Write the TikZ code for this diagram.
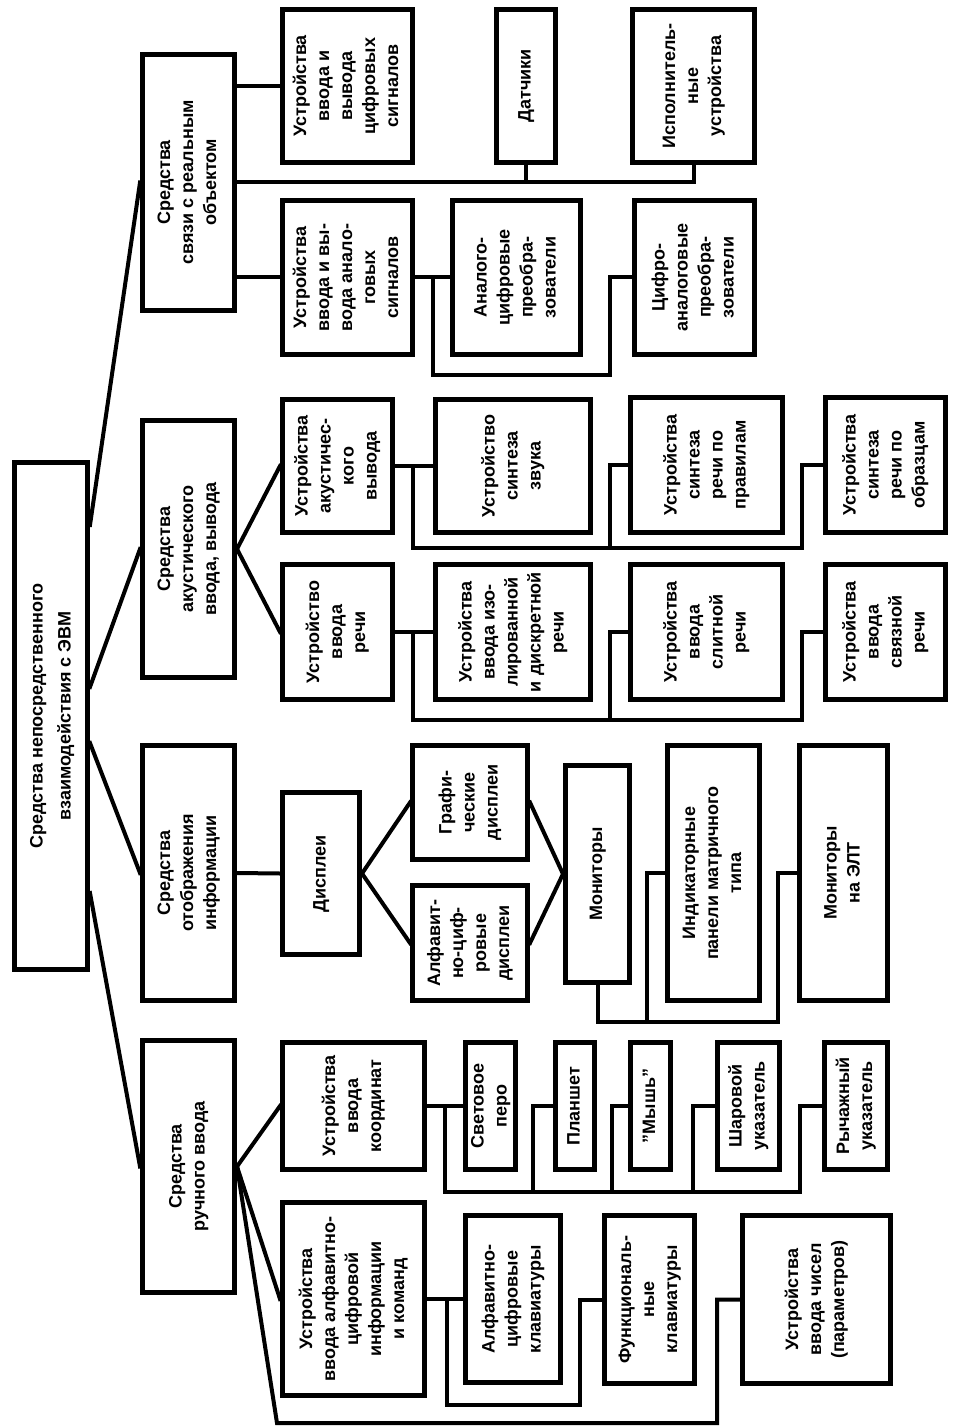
\documentclass[tikz,border=0pt]{standalone}
\usepackage{fontspec}
\setmainfont{Liberation Sans}
\usetikzlibrary{calc}
\tikzset{
  boxst/.style={draw, line width=2.5pt, inner sep=0pt, align=center,
    font=\bfseries\fontsize{9}{11.5}\selectfont},
  conn/.style={line width=2pt, line cap=rect, line join=miter}
}
\newcommand\bx[6]{%
  \pgfmathsetmacro\bxw{(#4-#2)*0.5-2.5}%
  \pgfmathsetmacro\bxh{(#5-#3)*0.5-2.5}%
  \node[boxst, minimum width=\bxw pt, minimum height=\bxh pt] (#1)
    at ({(#2+#4)/2},{(#3+#5)/2})
    {\rotatebox{90}{\begin{tabular}{@{}c@{}}#6\end{tabular}}};}
\begin{document}
\begin{tikzpicture}[x=0.5pt,y=-0.5pt]
\fill[white] (0,0) rectangle (952,1427);
\useasboundingbox (0,0) rectangle (952,1427);

% root
\node[boxst, minimum width=36.5pt, minimum height=253.5pt,
  font=\bfseries\fontsize{9}{14}\selectfont] (R) at (51,716)
  {\rotatebox{90}{\begin{tabular}{@{}c@{}}Средства непосредственного\\взаимодействия с ЭВМ\end{tabular}}};

% level 1
\bx{A}{140}{52}{237}{313}{Средства\\связи с реальным\\объектом}
\bx{B}{140}{418}{237}{680}{Средства\\акустического\\ввода, вывода}
\bx{C}{140}{743}{237}{1003}{Средства\\отображения\\информации}
\bx{D}{140}{1038}{237}{1295}{Средства\\ручного ввода}

% branch A
\bx{A1}{280}{7}{415}{165}{Устройства\\ввода и\\вывода\\цифровых\\сигналов}
\bx{A2}{494}{7}{558}{165}{Датчики}
\bx{A3}{630}{7}{757}{165}{Исполнитель-\\ные\\устройства}
\bx{A4}{280}{198}{415}{357}{Устройства\\ввода и вы-\\вода анало-\\говых\\сигналов}
\bx{A5}{450}{198}{583}{357}{Аналого-\\цифровые\\преобра-\\зователи}
\bx{A6}{632}{198}{757}{357}{Цифро-\\аналоговые\\преобра-\\зователи}

% branch B
\bx{B1}{280}{397}{395}{535}{Устройства\\акустичес-\\кого\\вывода}
\bx{B2}{433}{397}{593}{535}{Устройство\\синтеза\\звука}
\bx{B3}{628}{395}{785}{535}{Устройства\\синтеза\\речи по\\правилам}
\bx{B4}{823}{395}{948}{535}{Устройства\\синтеза\\речи по\\образцам}
\bx{B5}{280}{562}{395}{702}{Устройство\\ввода\\речи}
\bx{B6}{433}{562}{593}{702}{Устройства\\ввода изо-\\лированной\\и дискретной\\речи}
\bx{B7}{628}{562}{785}{702}{Устройства\\ввода\\слитной\\речи}
\bx{B8}{823}{562}{948}{702}{Устройства\\ввода\\связной\\речи}

% branch C
\bx{C1}{280}{790}{362}{957}{Дисплеи}
\bx{C2}{410}{743}{530}{862}{Графи-\\ческие\\дисплеи}
\bx{C3}{410}{883}{530}{1003}{Алфавит-\\но-циф-\\ровые\\дисплеи}
\bx{C4}{563}{763}{632}{985}{Мониторы}
\bx{C5}{665}{743}{762}{1003}{Индикаторные\\панели матричного\\типа}
\bx{C6}{797}{743}{890}{1003}{Мониторы\\на ЭЛТ}

% branch D
\bx{D1}{280}{1040}{427}{1172}{Устройства\\ввода\\координат}
\bx{D2}{463}{1040}{518}{1172}{Световое\\перо}
\bx{D3}{553}{1040}{597}{1172}{Планшет}
\bx{D4}{628}{1040}{673}{1172}{"Мышь"}
\bx{D5}{715}{1040}{782}{1172}{Шаровой\\указатель}
\bx{D6}{822}{1040}{890}{1172}{Рычажный\\указатель}
\bx{D7}{280}{1200}{427}{1398}{Устройства\\ввода алфавитно-\\цифровой\\информации\\и команд}
\bx{D8}{463}{1213}{563}{1385}{Алфавитно-\\цифровые\\клавиатуры}
\bx{D9}{602}{1213}{697}{1386}{Функциональ-\\ные\\клавиатуры}
\bx{D10}{740}{1213}{893}{1386}{Устройства\\ввода чисел\\(параметров)}

% root to level 1
\coordinate (r1) at ($(R.north east)+(0,65)$);
\coordinate (r2) at ($(R.north east)+(0,227)$);
\coordinate (r3) at ($(R.north east)+(0,283)$);
\coordinate (r4) at ($(R.north east)+(0,433)$);
\draw[conn] (r1) -- (A.west);
\draw[conn] (r2) -- (B.west);
\draw[conn] (r3) -- (C.west);
\draw[conn] (r4) -- (D.west);

% branch A connectors
\coordinate (aBus) at (0,182);
\coordinate (aB2a) at (433,375);
\coordinate (aB2b) at (610,375);
\draw[conn] (A.east |- A1.west) -- (A1.west);
\draw[conn] (A.east |- aBus) -| (A3.south);
\draw[conn] (A2.south) -- (A2.south |- aBus);
\draw[conn] (A.east |- A4.west) -- (A4.west);
\draw[conn] (A4.east) -- (A5.west);
\draw[conn] (A4.east -| aB2a) -- (aB2a) -- (aB2b) |- (A6.west);

% branch B connectors
\coordinate (bA) at (413,548);
\coordinate (bB) at (802,548);
\coordinate (bC) at (610,548);
\coordinate (bD) at (413,720);
\coordinate (bE) at (802,720);
\coordinate (bF) at (610,720);
\draw[conn] (B.east) -- (B1.west);
\draw[conn] (B.east) -- (B5.west);
\draw[conn] (B1.east) -- (B2.west);
\draw[conn] (B1.east -| bA) -- (bA) -- (bB) |- (B4.west);
\draw[conn] (bC) |- (B3.west);
\draw[conn] (B5.east) -- (B6.west);
\draw[conn] (B5.east -| bD) -- (bD) -- (bE) |- (B8.west);
\draw[conn] (bF) |- (B7.west);

% branch C connectors
\coordinate (cA) at (598,1022);
\coordinate (cB) at (778,1022);
\coordinate (cC) at (647,1022);
\draw[conn] (C.east) -- (C1.west);
\draw[conn] (C1.east) -- (C2.west);
\draw[conn] (C1.east) -- (C3.west);
\draw[conn] (C2.east) -- (C4.west);
\draw[conn] (C3.east) -- (C4.west);
\draw[conn] (C4.south) -- (C4.south |- cA) -- (cB) |- (C6.west);
\draw[conn] (cC) |- (C5.west);

% branch D connectors
\coordinate (dA) at (277,1423);
\coordinate (dB) at (717,1423);
\coordinate (dC) at (445,1192);
\coordinate (dD) at (800,1192);
\coordinate (dE) at (533,1192);
\coordinate (dF) at (612,1192);
\coordinate (dG) at (693,1192);
\coordinate (dH) at (447,1405);
\coordinate (dI) at (580,1405);
\draw[conn] (D.east) -- (D1.west);
\draw[conn] (D.east) -- (D7.west);
\draw[conn] (D.east) -- (dA) -- (dB) |- (D10.west);
\draw[conn] (D1.east) -- (D2.west);
\draw[conn] (D1.east -| dC) -- (dC) -- (dD) |- (D6.west);
\draw[conn] (dE) |- (D3.west);
\draw[conn] (dF) |- (D4.west);
\draw[conn] (dG) |- (D5.west);
\draw[conn] (D7.east) -- (D8.west);
\draw[conn] (D7.east -| dH) -- (dH) -- (dI) |- (D9.west);
\end{tikzpicture}
\end{document}
